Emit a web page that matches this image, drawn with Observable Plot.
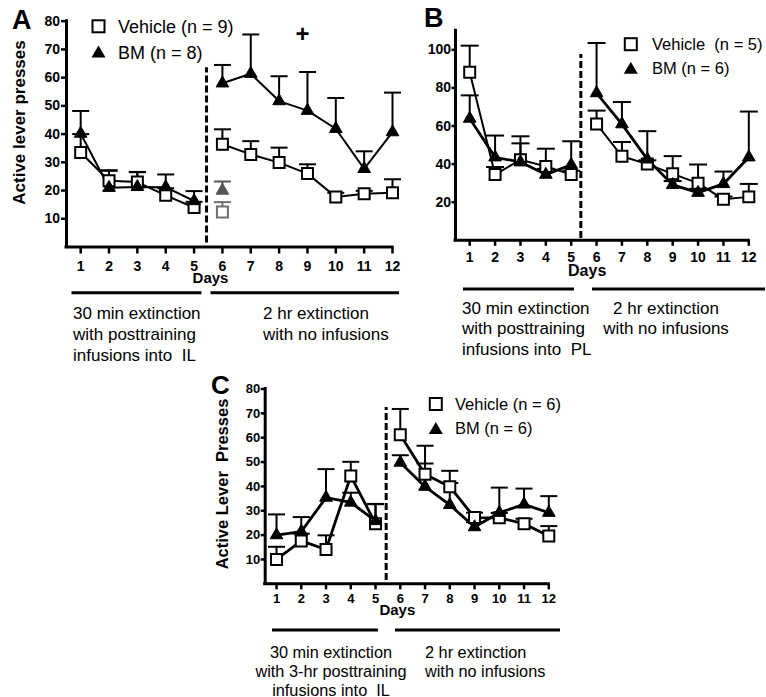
<!DOCTYPE html>
<html>
<head>
<meta charset="utf-8">
<script src="https://cdn.jsdelivr.net/npm/d3@7"></script>
<script src="https://cdn.jsdelivr.net/npm/@observablehq/plot@0.6"></script>
<style>
  body { margin: 0; background: #fff; }
  #fig { position: relative; width: 766px; height: 697px; overflow: hidden; background: #fff;
         font-family: "Liberation Sans", Arial, sans-serif; }
  #fig > svg { position: absolute; }
  #overlay { position: absolute; left: 0; top: 0; pointer-events: none; }
</style>
</head>
<body>
<div id="fig"></div>
<script>
// ---------------- data ----------------
const days = [1, 2, 3, 4, 5, 6, 7, 8, 9, 10, 11, 12];

// Panel A (IL, posttraining infusions)
const aVehicle    = [33.5, 23.5, 23.0, 18.3, 14.0, 36.4, 32.8, 29.9, 26.0, 17.7, 18.9, 19.2];
const aVehicleSem = [ 6.5,  3.7,  3.6,  2.5,  2.0,  5.3,  4.7,  5.3,  3.3,  1.5,  1.0,  4.8];
const aBM         = [40.2, 21.0, 21.3, 21.2, 16.3, 58.0, 61.4, 51.7, 48.3, 41.9, 27.7, 40.7];
const aBMSem      = [ 8.0,  6.0,  5.2,  4.5,  3.5,  6.5, 13.9,  8.8, 13.7, 10.9,  6.2, 14.0];
const aProbeDay        = [6];
const aProbeVehicle    = [12.4];
const aProbeVehicleSem = [3.5];
const aProbeBM         = [20.0];
const aProbeBMSem      = [3.2];
const aSigDays = [9];

// Panel B (PL)
const bVehicle    = [88.2, 34.5, 42.3, 38.8, 34.5, 61.1, 44.1, 40.0, 34.9, 30.0, 21.5, 22.8];
const bVehicleSem = [14.0,  4.0,  8.6,  9.3,  2.0,  7.0,  7.5,  2.0,  9.3,  9.8,  1.5,  6.8];
const bBM         = [63.9, 43.6, 41.1, 34.5, 39.7, 77.3, 61.0, 42.5, 29.1, 25.0, 29.6, 43.6];
const bBMSem      = [12.2, 11.4, 13.5,  3.0, 12.3, 26.3, 11.6, 14.8,  2.0,  2.0,  6.5, 24.0];

// Panel C (IL, 3-hr posttraining infusions)
const cVehicle    = [10.0, 17.6, 14.1, 44.3, 24.7, 61.2, 45.0, 39.9, 27.2, 27.1, 24.7, 19.6];
const cVehicleSem = [ 5.2,  3.0,  5.8,  5.8,  8.0, 10.6, 11.7,  6.5,  2.0,  2.0,  2.0,  4.1];
const cBM         = [20.0, 21.4, 35.4, 33.4, 25.8, 49.8, 39.9, 32.4, 23.3, 29.2, 32.6, 29.2];
const cBMSem      = [ 8.5,  6.0, 11.7,  4.0,  7.0,  3.0,  9.5,  9.0,  2.0, 10.3,  6.5,  6.8];

const aYTicks = [10, 20, 30, 40, 50, 60, 70, 80];
const bYTicks = [20, 40, 60, 80, 100];
const cYTicks = [10, 20, 30, 40, 50, 60, 70, 80];

const lastExtinctionDay = 5;

// ---------------- helpers ----------------
const rows = (dayList, vals, sems) =>
  dayList.map((day, i) => ({ day, mean: vals[i], sem: sems[i], phase: day <= lastExtinctionDay ? "early" : "late" }));

const capSymbol = {
  draw(ctx, size) { const r = Math.sqrt(size / Math.PI); ctx.moveTo(-r, 0); ctx.lineTo(r, 0); }
};

function errorMarks(data, color, capR, w) {
  return [
    Plot.ruleX(data, { x: "day", y1: "mean", y2: d => d.mean + d.sem, stroke: color, strokeWidth: w }),
    Plot.dot(data, { x: "day", y: d => d.mean + d.sem, symbol: capSymbol, r: capR, stroke: color, strokeWidth: w, fill: "none" })
  ];
}

function panel(c) {
  const veh = rows(days, c.veh, c.vehSem);
  const bm = rows(days, c.bm, c.bmSem);
  return Plot.plot({
    width: c.width, height: c.height,
    marginLeft: c.ml, marginRight: c.mr, marginTop: c.mt, marginBottom: c.mb,
    x: { domain: [c.x0, 12] },
    y: { domain: [0, c.yMax] },
    style: { fontFamily: "Liberation Sans, Arial, sans-serif", fontWeight: "bold", overflow: "visible", background: "transparent", color: "black" },
    marks: [
      Plot.axisY(c.yTicks, { anchor: "left", tickSize: c.yTickSize, tickPadding: c.yTickPad, fontSize: c.tickFont, strokeWidth: 2.5, label: null }),
      Plot.axisX(days, { anchor: "bottom", tickSize: c.xTickSize, tickPadding: c.xTickPad, fontSize: c.tickFont, strokeWidth: 2.5, label: null }),
      Plot.ruleX([c.x0], { y1: 0, y2: c.yMax, strokeWidth: 3, strokeLinecap: "square" }),
      Plot.ruleY([0], { x1: c.x0, x2: 12, strokeWidth: 3, strokeLinecap: "square" }),
      Plot.ruleX([c.divider], { y1: c.divY[0], y2: c.divY[1], strokeWidth: 3, strokeDasharray: "7,3" }),
      Plot.text(["Days"], { x: c.daysX, frameAnchor: "bottom", dy: c.daysDy, fontSize: c.daysFont }),
      ...(c.title ? [Plot.text([c.title], { frameAnchor: "left", textAnchor: "middle", rotate: -90, dx: c.titleDx, dy: c.titleDy, fontSize: c.titleFont })] : []),
      ...errorMarks(veh, "black", c.capR, 2),
      ...errorMarks(bm, "black", c.capR, 2),
      ...(c.extra || []),
      Plot.line(veh, { x: "day", y: "mean", z: "phase", stroke: "black", strokeWidth: c.vehLineW }),
      Plot.line(bm, { x: "day", y: "mean", z: "phase", stroke: "black", strokeWidth: c.bmLineW }),
      Plot.dot(veh, { x: "day", y: "mean", symbol: "square", r: c.sqR, fill: "white", stroke: "black", strokeWidth: 2 }),
      Plot.dot(bm, { x: "day", y: "mean", symbol: "triangle", r: c.triR, fill: "black", stroke: "black", strokeWidth: 1 }),
      ...(c.after || [])
    ]
  });
}

const fig = document.getElementById("fig");

// ---------------- Panel A ----------------
const aProbeVeh = rows(aProbeDay, aProbeVehicle, aProbeVehicleSem);
const aProbeB = rows(aProbeDay, aProbeBM, aProbeBMSem);
const svgA = panel({
  veh: aVehicle, vehSem: aVehicleSem, bm: aBM, bmSem: aBMSem,
  x0: 0.5, yMax: 80, yTicks: aYTicks,
  width: 410, height: 300, ml: 66, mr: 18, mt: 20.7, mb: 53.5,
  tickFont: 14, xTickSize: 7, xTickPad: 7.5, yTickSize: 5, yTickPad: 1.5,
  divider: 5.44, divY: [1.4, 63.5],
  daysX: 5.58, daysDy: 35.5, daysFont: 15,
  title: "Active lever presses", titleDx: -47, titleDy: -11.6, titleFont: 17,
  capR: 8.5, sqR: 6.2, triR: 4.7, vehLineW: 2, bmLineW: 2,
  extra: [
    ...errorMarks(aProbeVeh, "#6e6e6e", 8.5, 2),
    ...errorMarks(aProbeB, "#555", 8.5, 2)
  ],
  after: [
    Plot.dot(aProbeVeh, { x: "day", y: "mean", symbol: "square", r: 6.2, fill: "white", stroke: "#6e6e6e", strokeWidth: 2 }),
    Plot.dot(aProbeB, { x: "day", y: "mean", symbol: "triangle", r: 4.7, fill: "#555", stroke: "#555", strokeWidth: 1 }),
    Plot.text(aSigDays, { x: d => d, y: 75.5, text: () => "+", dx: -5, fontSize: 24 })
  ]
});
svgA.style.left = "0px"; svgA.style.top = "0px";
fig.appendChild(svgA);

// ---------------- Panel B ----------------
const svgB = panel({
  veh: bVehicle, vehSem: bVehicleSem, bm: bBM, bmSem: bBMSem,
  x0: 0.44, yMax: 110, yTicks: bYTicks,
  width: 346, height: 300, ml: 35, mr: 17.7, mt: 30.3, mb: 60.2,
  tickFont: 14, xTickSize: 6, xTickPad: 6, yTickSize: 3.5, yTickPad: 1,
  divider: 5.38, divY: [1, 97.6],
  daysX: 5.63, daysDy: 36, daysFont: 16,
  capR: 9, sqR: 6.2, triR: 4.7, vehLineW: 2, bmLineW: 2.8
});
svgB.style.left = "420px"; svgB.style.top = "0px";
fig.appendChild(svgB);

// ---------------- Panel C ----------------
const svgC = panel({
  veh: cVehicle, vehSem: cVehicleSem, bm: cBM, bmSem: cBMSem,
  x0: 0.543, yMax: 80, yTicks: cYTicks,
  width: 380, height: 300, ml: 64.7, mr: 31.7, mt: 48.5, mb: 56.7,
  tickFont: 13, xTickSize: 6, xTickPad: 3.5, yTickSize: 4, yTickPad: 1,
  divider: 5.43, divY: [1.4, 72.4],
  daysX: 5.88, daysDy: 31.5, daysFont: 15,
  title: "Active Lever  Presses", titleDx: -42.7, titleDy: -2.4, titleFont: 16.5,
  capR: 8.5, sqR: 6.2, triR: 4.7, vehLineW: 2.8, bmLineW: 2.8
});
svgC.style.left = "200px"; svgC.style.top = "340px";
fig.appendChild(svgC);

// ---------------- overlay: panel letters, legends, phase brackets ----------------
const legends = [
  { sq: [98.5, 26.3], tri: [98.5, 52], tx: 118, vehText: "Vehicle (n = 9)", bmText: "BM (n = 8)", vb: 33.2, bb: 59.2, fs: 18 },
  { sq: [630.8, 44.2], tri: [630.8, 68.3], tx: 652, vehText: "Vehicle  (n = 5)", bmText: "BM (n = 6)", vb: 50, bb: 74, fs: 16.5 },
  { sq: [435.8, 404], tri: [435.8, 428.5], tx: 455, vehText: "Vehicle (n = 6)", bmText: "BM (n = 6)", vb: 410, bb: 434, fs: 16.5 }
];
const letters = [
  { t: "A", x: 12, y: 28.5, fs: 27 },
  { t: "B", x: 424, y: 27, fs: 27 },
  { t: "C", x: 211, y: 393.5, fs: 26 }
];
const brackets = [
  [71.5, 201.5, 292.7], [210.5, 399, 292.7],
  [463, 574, 289], [592, 765, 289],
  [272, 378, 630], [395, 560, 630]
];
const phaseTexts = [
  { x: 73, anchor: "start", fs: 17, lines: ["30 min extinction", "with posttraining", "infusions into  IL"], ys: [319, 340, 360.5] },
  { x: 263, anchor: "start", fs: 17, lines: ["2 hr extinction", "with no infusions"], ys: [319, 340] },
  { x: 462, anchor: "start", fs: 17, lines: ["30 min extinction", "with posttraining", "infusions into  PL"], ys: [313.5, 334, 354.5] },
  { x: 666, anchor: "middle", fs: 17, lines: ["2 hr extinction", "with no infusions"], ys: [313.5, 334] },
  { x: 331, anchor: "middle", fs: 16.3, lines: ["30 min extinction", "with 3-hr posttraining", "infusions into  IL"], ys: [657.5, 676.5, 695.5] },
  { x: 425, anchor: "start", fs: 16.3, lines: ["2 hr extinction", "with no infusions"], ys: [657.5, 676.5] }
];

let s = `<svg id="overlay" width="766" height="697" xmlns="http://www.w3.org/2000/svg" font-family="Liberation Sans, Arial, sans-serif">`;
for (const l of letters) s += `<text x="${l.x}" y="${l.y}" font-size="${l.fs}" font-weight="bold">${l.t}</text>`;
for (const g of legends) {
  const [sx, sy] = g.sq, [tx, ty] = g.tri;
  s += `<rect x="${sx - 6}" y="${sy - 6}" width="12" height="12" fill="white" stroke="black" stroke-width="2"/>`;
  s += `<polygon points="${tx},${ty - 6.5} ${tx - 7},${ty + 5.5} ${tx + 7},${ty + 5.5}" fill="black"/>`;
  s += `<text x="${g.tx}" y="${g.vb}" font-size="${g.fs}">${g.vehText.replace(/  /g, " &#160;")}</text>`;
  s += `<text x="${g.tx}" y="${g.bb}" font-size="${g.fs}">${g.bmText}</text>`;
}
for (const [x1, x2, y] of brackets) s += `<line x1="${x1}" x2="${x2}" y1="${y}" y2="${y}" stroke="black" stroke-width="3"/>`;
for (const p of phaseTexts) {
  p.lines.forEach((t, i) => {
    s += `<text x="${p.x}" y="${p.ys[i]}" font-size="${p.fs}" text-anchor="${p.anchor}">${t.replace(/  /g, " &#160;")}</text>`;
  });
}
s += `</svg>`;
fig.insertAdjacentHTML("beforeend", s);
</script>
</body>
</html>
